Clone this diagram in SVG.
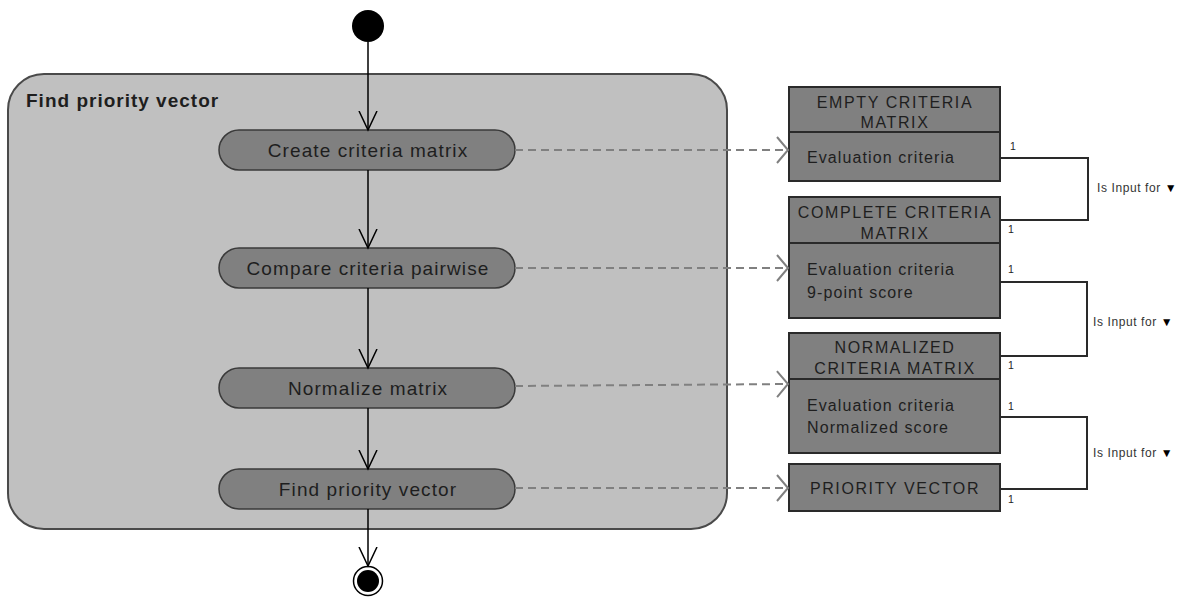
<svg xmlns="http://www.w3.org/2000/svg" width="1190" height="597" viewBox="0 0 1190 597">
<defs>
<style>
.t{font-family:"Liberation Sans",Arial,sans-serif;fill:#1e1e1e}
.title{font-size:19px;font-weight:bold;letter-spacing:1px}
.act{font-size:19px;letter-spacing:1.1px;text-anchor:middle}
.hdr{font-size:16px;letter-spacing:1.6px;text-anchor:middle}
.body{font-size:16px;letter-spacing:1.1px}
.one{font-size:10.5px}
.rel{font-size:12px;letter-spacing:0.6px;fill:#333}
.pill{fill:#808080;stroke:#3a3a3a;stroke-width:1.5}
.ent{fill:#808080;stroke:#2a2a2a;stroke-width:2}
.flow{stroke:#000;stroke-width:1.5;fill:none}
.dash{stroke:#808080;stroke-width:2;stroke-dasharray:8 5;fill:none}
.assoc{stroke:#2a2a2a;stroke-width:2;fill:none}
</style>
<marker id="openv" markerWidth="22" markerHeight="22" refX="19" refY="10" orient="auto" markerUnits="userSpaceOnUse">
<path d="M0,1 L19,10 L0,19" fill="none" stroke="#000" stroke-width="1.5"/>
</marker>
<marker id="dashv" markerWidth="16" markerHeight="30" refX="12" refY="14" orient="auto" markerUnits="userSpaceOnUse">
<path d="M1,1 L12,14 L1,27" fill="none" stroke="#808080" stroke-width="2"/>
</marker>
</defs>
<rect width="1190" height="597" fill="#ffffff"/>

<g id="container">
<rect x="8" y="74" width="719" height="455" rx="36" ry="36" fill="#c0c0c0" stroke="#4a4a4a" stroke-width="2"/>
<text class="t title" x="26" y="107">Find priority vector</text>
</g>

<g id="start">
<circle cx="368" cy="26" r="16" fill="#000"/>
</g>

<g id="act-create">
<rect class="pill" x="219" y="130" width="296" height="40" rx="20" ry="20"/>
<text class="t act" x="368" y="157">Create criteria matrix</text>
</g>
<g id="act-compare">
<rect class="pill" x="219" y="248" width="296" height="40" rx="20" ry="20"/>
<text class="t act" x="368" y="275">Compare criteria pairwise</text>
</g>
<g id="act-normalize">
<rect class="pill" x="219" y="368" width="296" height="40" rx="20" ry="20"/>
<text class="t act" x="368" y="395">Normalize matrix</text>
</g>
<g id="act-find">
<rect class="pill" x="219" y="469" width="296" height="40" rx="20" ry="20"/>
<text class="t act" x="368" y="496">Find priority vector</text>
</g>

<g id="end">
<circle cx="368" cy="581" r="14.5" fill="#fff" stroke="#000" stroke-width="1.5"/>
<circle cx="368" cy="581" r="11" fill="#000"/>
</g>

<g id="ent-empty">
<rect class="ent" x="789" y="87" width="211" height="94"/>
<line class="ent" x1="789" y1="132" x2="1000" y2="132"/>
<text class="t hdr" x="895" y="108">EMPTY CRITERIA</text>
<text class="t hdr" x="895" y="128">MATRIX</text>
<text class="t body" x="807" y="163">Evaluation criteria</text>
</g>
<g id="ent-complete">
<rect class="ent" x="789" y="197" width="211" height="121"/>
<line class="ent" x1="789" y1="243" x2="1000" y2="243"/>
<text class="t hdr" x="895" y="218">COMPLETE CRITERIA</text>
<text class="t hdr" x="895" y="239">MATRIX</text>
<text class="t body" x="807" y="275">Evaluation criteria</text>
<text class="t body" x="807" y="298">9-point score</text>
</g>
<g id="ent-normalized">
<rect class="ent" x="789" y="333" width="211" height="120"/>
<line class="ent" x1="789" y1="379" x2="1000" y2="379"/>
<text class="t hdr" x="895" y="353">NORMALIZED</text>
<text class="t hdr" x="895" y="374">CRITERIA MATRIX</text>
<text class="t body" x="807" y="411">Evaluation criteria</text>
<text class="t body" x="807" y="433">Normalized score</text>
</g>
<g id="ent-priority">
<rect class="ent" x="789" y="464" width="211" height="47"/>
<text class="t hdr" x="895" y="494">PRIORITY VECTOR</text>
</g>

<g id="connectors">
<line class="flow" x1="368" y1="42" x2="368" y2="130" marker-end="url(#openv)"/>
<line class="flow" x1="368" y1="170" x2="368" y2="248" marker-end="url(#openv)"/>
<line class="flow" x1="368" y1="288" x2="368" y2="368" marker-end="url(#openv)"/>
<line class="flow" x1="368" y1="408" x2="368" y2="469" marker-end="url(#openv)"/>
<line class="flow" x1="368" y1="509" x2="368" y2="566" marker-end="url(#openv)"/>

<line class="dash" x1="515" y1="150" x2="788" y2="150" marker-end="url(#dashv)"/>
<line class="dash" x1="515" y1="268" x2="788" y2="268" marker-end="url(#dashv)"/>
<line class="dash" x1="515" y1="386" x2="788" y2="384" marker-end="url(#dashv)"/>
<line class="dash" x1="515" y1="488" x2="788" y2="488" marker-end="url(#dashv)"/>

<polyline class="assoc" points="1000,158 1088,158 1088,220 1000,220"/>
<polyline class="assoc" points="1000,282 1087,282 1087,356 1000,356"/>
<polyline class="assoc" points="1000,417 1087,417 1087,489 1000,489"/>

<text class="t one" x="1010" y="150">1</text>
<text class="t one" x="1008" y="233">1</text>
<text class="t one" x="1008" y="273">1</text>
<text class="t one" x="1008" y="369">1</text>
<text class="t one" x="1008" y="410">1</text>
<text class="t one" x="1008" y="503">1</text>

<text class="t rel" x="1097" y="192">Is Input for <tspan fill="#000">▼</tspan></text>
<text class="t rel" x="1093" y="326">Is Input for <tspan fill="#000">▼</tspan></text>
<text class="t rel" x="1093" y="457">Is Input for <tspan fill="#000">▼</tspan></text>
</g>
</svg>
